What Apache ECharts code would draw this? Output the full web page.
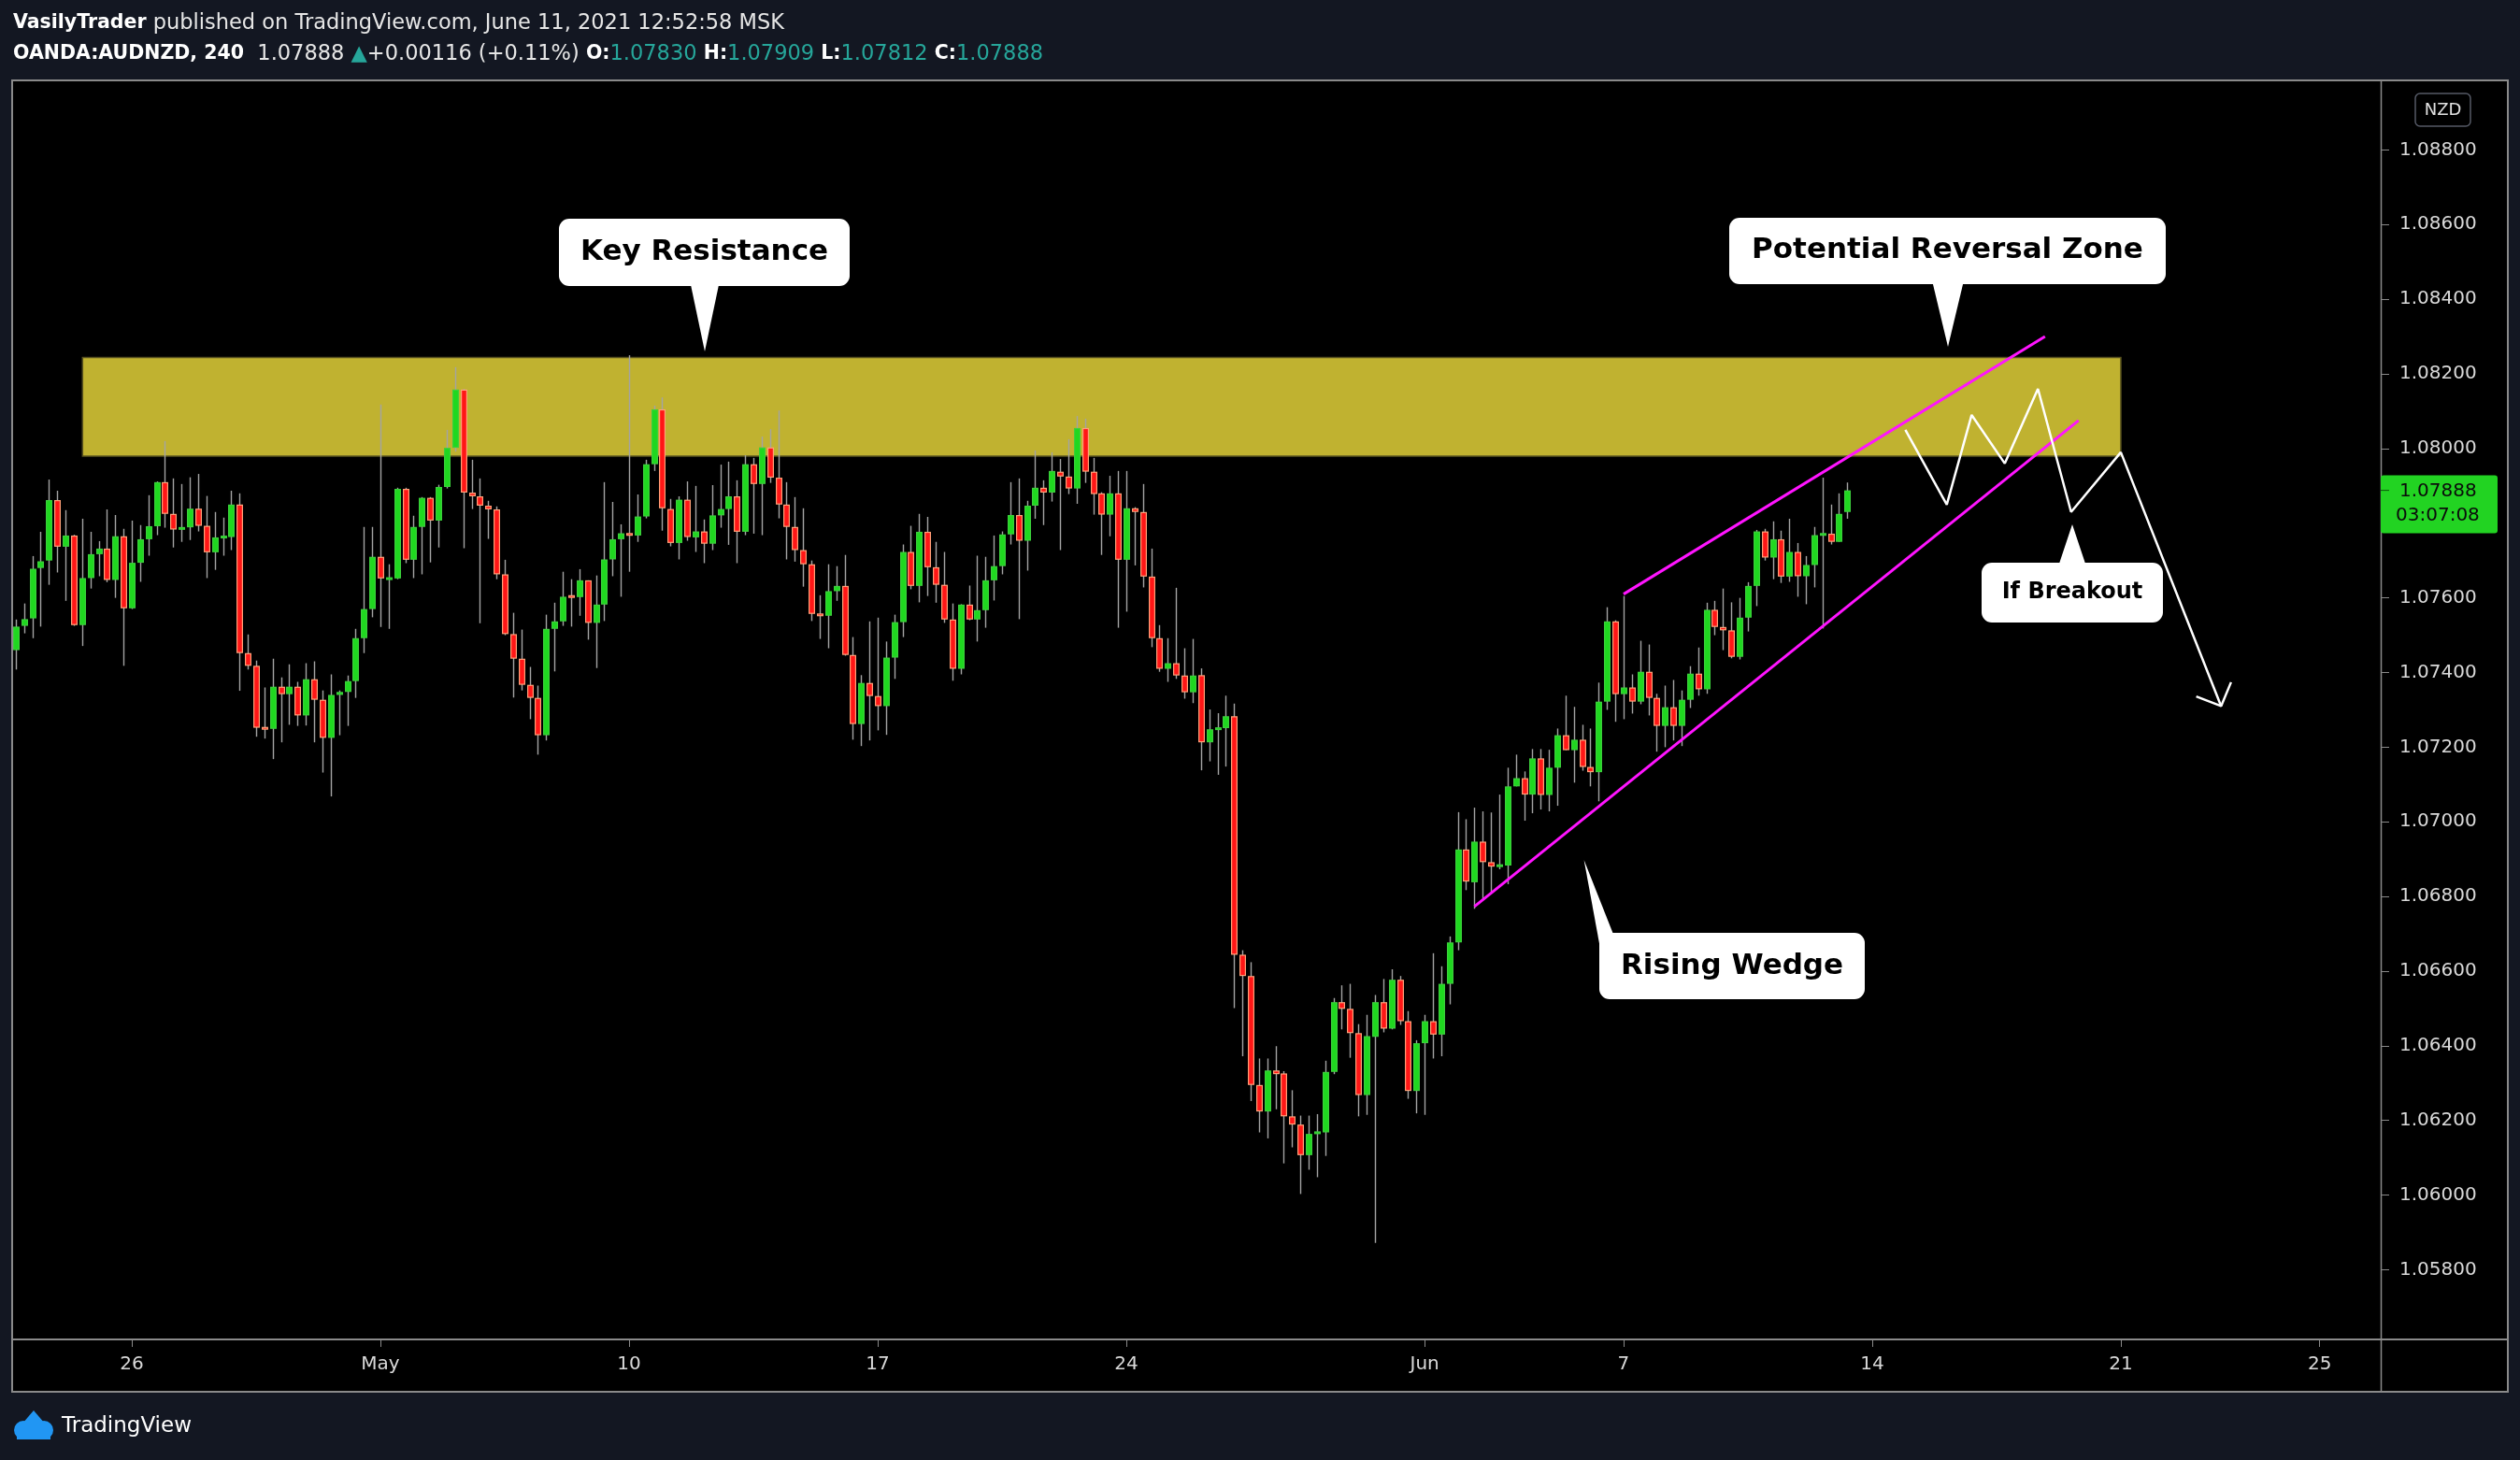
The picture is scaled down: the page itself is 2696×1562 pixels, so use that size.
<!DOCTYPE html>
<html><head><meta charset="utf-8">
<script src="https://cdn.jsdelivr.net/npm/echarts@6/dist/echarts.min.js"></script>
<style>html,body{margin:0;padding:0;background:#131722;}#c{width:2696px;height:1562px;}</style>
</head><body><div id="c"></div>
<script>
// OANDA:AUDNZD 240 — each row: [open, high, low, close], bar index = row index
const candles = [
[1.07460,1.07542,1.07408,1.07523],[1.07525,1.07585,1.07505,1.07543],[1.07545,1.07712,1.07492,1.07678],[1.07680,1.07777,1.07523,1.07698],
[1.07700,1.07917,1.07635,1.07862],[1.07862,1.07887,1.07668,1.07737],[1.07737,1.07835,1.07592,1.07767],[1.07767,1.07769,1.07525,1.07527],
[1.07527,1.07812,1.07471,1.07653],[1.07653,1.07777,1.07625,1.07717],[1.07717,1.07752,1.07658,1.07732],[1.07732,1.07837,1.07642,1.07648],
[1.07648,1.07822,1.07600,1.07765],[1.07765,1.07785,1.07418,1.07572],[1.07572,1.07807,1.07570,1.07694],[1.07694,1.07795,1.07643,1.07757],
[1.07757,1.07875,1.07713,1.07792],[1.07792,1.07912,1.07768,1.07910],[1.07910,1.08020,1.07788,1.07825],[1.07825,1.07920,1.07735,1.07783],
[1.07783,1.07905,1.07750,1.07789],[1.07789,1.07923,1.07755,1.07839],[1.07839,1.07932,1.07778,1.07793],[1.07793,1.07873,1.07653,1.07722],
[1.07722,1.07830,1.07675,1.07762],[1.07761,1.07815,1.07713,1.07765],[1.07763,1.07887,1.07728,1.07850],[1.07850,1.07880,1.07351,1.07452],
[1.07452,1.07502,1.07408,1.07418],[1.07418,1.07432,1.07228,1.07252],[1.07252,1.07360,1.07223,1.07249],[1.07249,1.07437,1.07168,1.07362],
[1.07362,1.07387,1.07213,1.07342],[1.07342,1.07422,1.07260,1.07362],[1.07362,1.07375,1.07257,1.07285],[1.07285,1.07425,1.07258,1.07382],
[1.07382,1.07430,1.07213,1.07327],[1.07327,1.07352,1.07132,1.07225],[1.07225,1.07395,1.07068,1.07340],[1.07340,1.07352,1.07232,1.07348],
[1.07348,1.07392,1.07257,1.07377],[1.07377,1.07517,1.07332,1.07492],[1.07492,1.07790,1.07452,1.07570],[1.07570,1.07790,1.07548,1.07710],
[1.07710,1.08118,1.07522,1.07652],[1.07650,1.07690,1.07517,1.07653],[1.07652,1.07895,1.07650,1.07892],[1.07892,1.07895,1.07693,1.07702],
[1.07702,1.07820,1.07653,1.07790],[1.07790,1.07870,1.07663,1.07868],[1.07868,1.07870,1.07695,1.07807],[1.07807,1.07903,1.07735,1.07897],
[1.07897,1.08050,1.07893,1.08002],[1.08002,1.08218,1.07992,1.08158],[1.08158,1.08160,1.07733,1.07882],[1.07882,1.07970,1.07838,1.07872],
[1.07872,1.07920,1.07532,1.07847],[1.07847,1.07860,1.07758,1.07837],[1.07837,1.07845,1.07650,1.07663],[1.07663,1.07702,1.07500,1.07503],
[1.07503,1.07560,1.07333,1.07437],[1.07437,1.07515,1.07352,1.07367],[1.07367,1.07415,1.07275,1.07332],[1.07332,1.07365,1.07180,1.07232],
[1.07232,1.07555,1.07218,1.07517],[1.07517,1.07587,1.07403,1.07537],[1.07537,1.07670,1.07525,1.07603],[1.07605,1.07650,1.07523,1.07602],
[1.07602,1.07677,1.07552,1.07647],[1.07647,1.07647,1.07488,1.07533],[1.07533,1.07660,1.07412,1.07582],[1.07582,1.07910,1.07538,1.07703],
[1.07703,1.07857,1.07658,1.07757],[1.07757,1.07797,1.07603,1.07773],[1.07773,1.08250,1.07670,1.07767],[1.07767,1.07877,1.07750,1.07818],
[1.07818,1.07970,1.07813,1.07958],[1.07958,1.08115,1.07940,1.08105],[1.08105,1.08137,1.07780,1.07840],[1.07838,1.07865,1.07738,1.07747],
[1.07747,1.07872,1.07703,1.07863],[1.07863,1.07912,1.07753,1.07763],[1.07762,1.07900,1.07723,1.07778],[1.07778,1.07810,1.07693,1.07745],
[1.07745,1.07902,1.07728,1.07821],[1.07821,1.07957,1.07788,1.07838],[1.07838,1.07965,1.07742,1.07872],[1.07872,1.07915,1.07693,1.07777],
[1.07777,1.07982,1.07768,1.07958],[1.07958,1.07975,1.07772,1.07905],[1.07905,1.08032,1.07768,1.08003],[1.08003,1.08052,1.07908,1.07922],
[1.07922,1.08102,1.07813,1.07850],[1.07850,1.07910,1.07703,1.07790],[1.07790,1.07870,1.07697,1.07728],[1.07728,1.07840,1.07630,1.07690],
[1.07690,1.07700,1.07538,1.07557],[1.07557,1.07607,1.07490,1.07552],[1.07552,1.07690,1.07465,1.07618],[1.07618,1.07685,1.07592,1.07632],
[1.07632,1.07715,1.07445,1.07447],[1.07447,1.07495,1.07220,1.07262],[1.07262,1.07393,1.07203,1.07372],[1.07372,1.07537,1.07218,1.07337],
[1.07337,1.07547,1.07245,1.07310],[1.07310,1.07483,1.07233,1.07440],[1.07440,1.07555,1.07383,1.07535],[1.07535,1.07743,1.07495,1.07723],
[1.07723,1.07793,1.07623,1.07632],[1.07632,1.07825,1.07588,1.07777],[1.07777,1.07817,1.07605,1.07682],[1.07682,1.07750,1.07587,1.07635],
[1.07635,1.07723,1.07533,1.07542],[1.07542,1.07585,1.07378,1.07410],[1.07410,1.07583,1.07395,1.07582],[1.07582,1.07633,1.07540,1.07542],
[1.07542,1.07713,1.07483,1.07567],[1.07567,1.07710,1.07520,1.07647],[1.07647,1.07767,1.07593,1.07685],[1.07685,1.07778,1.07663,1.07770],
[1.07770,1.07910,1.07743,1.07822],[1.07822,1.07920,1.07543,1.07753],[1.07753,1.07860,1.07673,1.07847],[1.07847,1.07995,1.07812,1.07895],
[1.07895,1.07915,1.07795,1.07882],[1.07882,1.07990,1.07858,1.07940],[1.07938,1.07972,1.07728,1.07925],[1.07925,1.08025,1.07878,1.07893],
[1.07893,1.08087,1.07852,1.08055],[1.08055,1.08080,1.07908,1.07938],[1.07938,1.07975,1.07823,1.07878],[1.07880,1.07883,1.07715,1.07823],
[1.07823,1.07927,1.07765,1.07880],[1.07880,1.07940,1.07520,1.07702],[1.07702,1.07940,1.07563,1.07840],[1.07840,1.07843,1.07687,1.07830],
[1.07830,1.07905,1.07628,1.07657],[1.07657,1.07732,1.07468,1.07492],[1.07492,1.07527,1.07402,1.07410],[1.07410,1.07492,1.07375,1.07425],
[1.07425,1.07627,1.07383,1.07392],[1.07392,1.07465,1.07330,1.07347],[1.07347,1.07490,1.07318,1.07392],[1.07393,1.07411,1.07138,1.07213],
[1.07213,1.07301,1.07162,1.07248],[1.07248,1.07291,1.07126,1.07251],[1.07251,1.07338,1.07148,1.07283],[1.07283,1.07317,1.06501,1.06644],
[1.06644,1.06656,1.06372,1.06587],[1.06587,1.06624,1.06252,1.06295],[1.06295,1.06366,1.06168,1.06224],[1.06224,1.06366,1.06152,1.06334],
[1.06334,1.06399,1.06230,1.06324],[1.06326,1.06332,1.06085,1.06211],[1.06211,1.06281,1.06128,1.06189],[1.06189,1.06213,1.06003,1.06107],
[1.06107,1.06213,1.06068,1.06164],[1.06164,1.06217,1.06048,1.06170],[1.06168,1.06360,1.06105,1.06330],[1.06330,1.06528,1.06324,1.06517],
[1.06517,1.06562,1.06444,1.06499],[1.06499,1.06566,1.06368,1.06434],[1.06434,1.06458,1.06211,1.06268],[1.06268,1.06483,1.06215,1.06426],
[1.06424,1.06536,1.05872,1.06517],[1.06517,1.06579,1.06436,1.06446],[1.06446,1.06605,1.06444,1.06577],[1.06577,1.06587,1.06456,1.06466],
[1.06466,1.06493,1.06258,1.06279],[1.06279,1.06415,1.06219,1.06407],[1.06407,1.06483,1.06215,1.06466],[1.06466,1.06648,1.06366,1.06430],
[1.06430,1.06613,1.06372,1.06566],[1.06566,1.06693,1.06511,1.06677],[1.06677,1.07026,1.06656,1.06926],[1.06926,1.07007,1.06817,1.06840],
[1.06838,1.07038,1.06767,1.06947],[1.06947,1.07028,1.06793,1.06892],[1.06892,1.07025,1.06812,1.06880],[1.06880,1.07073,1.06873,1.06885],
[1.06883,1.07145,1.06833,1.07095],[1.07095,1.07180,1.07095,1.07117],[1.07117,1.07135,1.07003,1.07073],[1.07073,1.07195,1.07023,1.07170],
[1.07170,1.07195,1.07033,1.07072],[1.07072,1.07193,1.07028,1.07145],[1.07145,1.07250,1.07043,1.07232],[1.07232,1.07338,1.07192,1.07192],
[1.07192,1.07308,1.07105,1.07220],[1.07220,1.07260,1.07137,1.07147],[1.07147,1.07250,1.07095,1.07133],[1.07133,1.07373,1.07055,1.07322],
[1.07322,1.07575,1.07300,1.07537],[1.07537,1.07540,1.07268,1.07342],[1.07342,1.07605,1.07275,1.07360],[1.07360,1.07395,1.07290,1.07322],
[1.07322,1.07485,1.07315,1.07402],[1.07402,1.07475,1.07285,1.07332],[1.07332,1.07343,1.07188,1.07257],[1.07257,1.07365,1.07200,1.07307],
[1.07307,1.07380,1.07218,1.07257],[1.07257,1.07352,1.07203,1.07327],[1.07327,1.07417,1.07305,1.07397],[1.07397,1.07467,1.07338,1.07355],
[1.07355,1.07587,1.07343,1.07568],[1.07568,1.07592,1.07500,1.07522],[1.07522,1.07625,1.07460,1.07513],[1.07513,1.07588,1.07438,1.07442],
[1.07442,1.07600,1.07435,1.07547],[1.07547,1.07642,1.07510,1.07632],[1.07632,1.07782,1.07578,1.07778],[1.07778,1.07785,1.07700,1.07708],
[1.07708,1.07805,1.07650,1.07757],[1.07757,1.07780,1.07640,1.07657],[1.07657,1.07812,1.07643,1.07723],[1.07723,1.07747,1.07603,1.07658],
[1.07658,1.07712,1.07583,1.07688],[1.07688,1.07790,1.07628,1.07768],[1.07768,1.07922,1.07518,1.07772],[1.07772,1.07850,1.07743,1.07750],
[1.07750,1.07880,1.07750,1.07825],[1.07830,1.07909,1.07812,1.07888]
];
const dateTickIndex = [14, 44, 74, 104, 134, 170, 194, 224, 254, 278];
const dateTickLabels = ['26', 'May', '10', '17', '24', 'Jun', '7', '14', '21', '25'];
const priceTicks = [1.058, 1.060, 1.062, 1.064, 1.066, 1.068, 1.070, 1.072, 1.074, 1.076, 1.078, 1.080, 1.082, 1.084, 1.086, 1.088];
const zoneBars = [8.06, 254];
const zonePrices = [1.07980, 1.08244];
const wedgeUpper = [[194, 1.07610], [244.85, 1.08300]];
const wedgeLower = [[176, 1.06773], [248.9, 1.08075]];
const scenarioPath = [[228, 1.0805], [233, 1.0785], [236, 1.0809], [240, 1.0796], [244, 1.0816], [248, 1.0783], [254, 1.0799], [266.1, 1.0731]];
const arrowHead = [[263.1, 1.07336], [266.1, 1.0731], [267.3, 1.07374]];
const lastPrice = 1.07888;
const lastCountdown = '03:07:08';

const FONT = 'DejaVu Sans';
const upFill = '#1fd81f', upBorder = '#3ccf3c', downFill = '#ff1616', downBorder = '#ffa078', wickColor = '#a3a3a3';
const chart = echarts.init(document.getElementById('c'), null, {renderer: 'canvas'});
const labelMap = {};
dateTickIndex.forEach((v, k) => labelMap[v] = dateTickLabels[k]);

function renderCandle(params, api) {
  const i = api.value(0), o = api.value(1), h = api.value(2), l = api.value(3), c = api.value(4);
  const up = c >= o;
  const pT = api.coord([i, Math.max(o, c)]), pB = api.coord([i, Math.min(o, c)]);
  const pH = api.coord([i, h]), pL = api.coord([i, l]);
  const x = Math.round(pT[0]) + 0.5;
  const bw = 7;
  let yT = pT[1], yB = pB[1];
  if (yB - yT < 3) { const m = (yT + yB) / 2; yT = m - 1.5; yB = m + 1.5; }
  return {type: 'group', children: [
    {type: 'line', shape: {x1: x, y1: pH[1], x2: x, y2: pL[1]}, style: {stroke: wickColor, lineWidth: 1.4}},
    {type: 'rect', shape: {x: x - bw / 2, y: yT, width: bw, height: yB - yT}, style: {fill: up ? upBorder : downBorder}},
    {type: 'rect', shape: {x: x - bw / 2 + 1.2, y: yT + 1.2, width: bw - 2.4, height: Math.max(0, yB - yT - 2.4)}, style: {fill: up ? upFill : downFill}}
  ]};
}
function renderZone(params, api) {
  const a = api.coord([api.value(0), api.value(3)]), b = api.coord([api.value(1), api.value(2)]);
  return {type: 'rect', shape: {x: a[0], y: a[1], width: b[0] - a[0], height: b[1] - a[1]},
    style: {fill: 'rgb(192,178,48)', stroke: '#5b5520', lineWidth: 1.5}};
}

function callout(box, ptr, text, size, textY) {
  return [
    {type: 'polygon', shape: {points: ptr}, style: {fill: '#ffffff'}, z: 20},
    {type: 'rect', shape: {x: box[0], y: box[1], width: box[2], height: box[3], r: 11}, style: {fill: '#ffffff'}, z: 20},
    {type: 'text', x: box[0] + box[2] / 2, y: textY, style: {text: text, font: 'bold ' + size + 'px "' + FONT + '"', fill: '#000', align: 'center', verticalAlign: 'middle'}, z: 21}
  ];
}

const gridL = 14, gridR = 2547, gridT = 87, gridB = 1432;
const REG = '22.5px "' + FONT + '"', BOLD = 'bold 20.5px "' + FONT + '"';
const graphics = [
  {type: 'rect', shape: {x: 13, y: 86, width: 2670, height: 1403}, style: {fill: '#000000'}, z: -10},
  // header
  {type: 'text', x: 14, y: 25, style: {text: '{b|VasilyTrader} published on TradingView.com, June 11, 2021 12:52:58 MSK',
    font: REG, fill: '#e6e6e6', verticalAlign: 'middle',
    rich: {b: {font: BOLD, fill: '#ffffff'}}}},
  {type: 'text', x: 14, y: 58, style: {text: '{b|OANDA:AUDNZD, 240}  1.07888 {t|▲}+0.00116 (+0.11%) {b|O:}{t|1.07830} {b|H:}{t|1.07909} {b|L:}{t|1.07812} {b|C:}{t|1.07888}',
    font: REG, fill: '#e6e6e6', verticalAlign: 'middle',
    rich: {b: {font: BOLD, fill: '#ffffff'}, t: {font: REG, fill: '#26a69a'}}}},
  // frame
  {type: 'rect', shape: {x: 13, y: 86, width: 2670, height: 1403}, style: {fill: null, stroke: '#8a8a8a', lineWidth: 2}, z: 30},
  {type: 'line', shape: {x1: 13, y1: gridB + 1, x2: 2683, y2: gridB + 1}, style: {stroke: '#8a8a8a', lineWidth: 2}, z: 30},
  {type: 'line', shape: {x1: gridR + 0.5, y1: 86, x2: gridR + 0.5, y2: 1489}, style: {stroke: '#8a8a8a', lineWidth: 1.5}, z: 30},
  // NZD badge
  {type: 'rect', shape: {x: 2584, y: 100, width: 59, height: 35, r: 5}, style: {fill: '#000', stroke: '#555a66', lineWidth: 1.5}, z: 30},
  {type: 'text', x: 2613.5, y: 118, style: {text: 'NZD', font: '18px "' + FONT + '"', fill: '#e0e0e0', align: 'center', verticalAlign: 'middle'}, z: 31},
  // logo
  {type: 'circle', shape: {cx: 25, cy: 1530, r: 10}, style: {fill: '#2196f3'}},
  {type: 'circle', shape: {cx: 47, cy: 1530, r: 10}, style: {fill: '#2196f3'}},
  {type: 'polygon', shape: {points: [[18, 1530], [36, 1509], [54, 1530], [54, 1540], [18, 1540]]}, style: {fill: '#2196f3'}},
  {type: 'text', x: 66, y: 1526, style: {text: 'TradingView', font: '23px "' + FONT + '"', fill: '#ffffff', verticalAlign: 'middle'}}
];
graphics.push(...callout([598, 234, 311, 72], [[738, 300], [770, 300], [754, 376]], 'Key Resistance', 31, 270));
graphics.push(...callout([1850, 233, 467, 71], [[2067, 300], [2101, 300], [2084, 371]], 'Potential Reversal Zone', 31, 268));
graphics.push(...callout([1711, 998, 284, 71], [[1694.6, 920], [1711.5, 1012], [1727, 1002]], 'Rising Wedge', 31, 1034));
graphics.push(...callout([2120, 602, 194, 64], [[2202, 606], [2232, 606], [2217, 561]], 'If Breakout', 24, 634));

chart.setOption({
  backgroundColor: '#131722',
  animation: false,
  grid: {left: gridL, right: 2696 - gridR, top: gridT, bottom: 1562 - gridB, containLabel: false},
  xAxis: {type: 'value', min: -0.323, max: 285.36, position: 'bottom',
    axisLine: {show: false, onZero: false}, splitLine: {show: false},
    axisTick: {show: true, customValues: dateTickIndex, length: 9, lineStyle: {color: '#8a8a8a', width: 1}},
    axisLabel: {customValues: dateTickIndex, formatter: v => labelMap[v] || '', color: '#d9d9d9', fontSize: 20, fontFamily: FONT, margin: 18}},
  yAxis: {type: 'value', position: 'right', min: 1.056159, max: 1.089838, scale: true,
    axisLine: {show: false, onZero: false}, splitLine: {show: false},
    axisTick: {show: true, customValues: priceTicks, length: 9, lineStyle: {color: '#8a8a8a', width: 1}},
    axisLabel: {customValues: priceTicks, formatter: v => v.toFixed(5), color: '#d9d9d9', fontSize: 20, fontFamily: FONT, margin: 20}},
  series: [
    {type: 'custom', name: 'zone', renderItem: renderZone, z: 1, clip: true,
      encode: {x: [0, 1], y: [2, 3]}, data: [[zoneBars[0], zoneBars[1], zonePrices[0], zonePrices[1]]]},
    {type: 'custom', name: 'AUDNZD', renderItem: renderCandle, z: 2, clip: true,
      encode: {x: 0, y: [1, 2, 3, 4]}, data: candles.map((c, i) => [i, c[0], c[1], c[2], c[3]])},
    {type: 'line', name: 'wedgeUpper', data: wedgeUpper, showSymbol: false, z: 4, lineStyle: {color: '#ff14ff', width: 3}},
    {type: 'line', name: 'wedgeLower', data: wedgeLower, showSymbol: false, z: 4, lineStyle: {color: '#ff14ff', width: 3}},
    {type: 'line', name: 'scenario', data: scenarioPath, showSymbol: false, z: 5, lineStyle: {color: '#ffffff', width: 2.5}},
    {type: 'line', name: 'arrowHead', data: arrowHead, showSymbol: false, z: 5, lineStyle: {color: '#ffffff', width: 2.5}}
  ],
  graphic: graphics
});

// last-price tag on the price scale
const yLast = chart.convertToPixel({yAxisIndex: 0}, lastPrice);
chart.setOption({graphic: graphics.concat([
  {type: 'rect', shape: {x: gridR, y: yLast - 16, width: 125, height: 62, r: 3}, style: {fill: '#22d322'}, z: 40},
  {type: 'line', shape: {x1: gridR, y1: yLast, x2: gridR + 9, y2: yLast}, style: {stroke: '#0a5a0a', lineWidth: 1}, z: 41},
  {type: 'text', x: gridR + 20, y: yLast + 1, style: {text: lastPrice.toFixed(5), font: '20px "' + FONT + '"', fill: '#0b0b0b', verticalAlign: 'middle'}, z: 41},
  {type: 'text', x: gridR + 16, y: yLast + 27, style: {text: lastCountdown, font: '20px "' + FONT + '"', fill: '#0b0b0b', verticalAlign: 'middle'}, z: 41}
])});
</script></body></html>
